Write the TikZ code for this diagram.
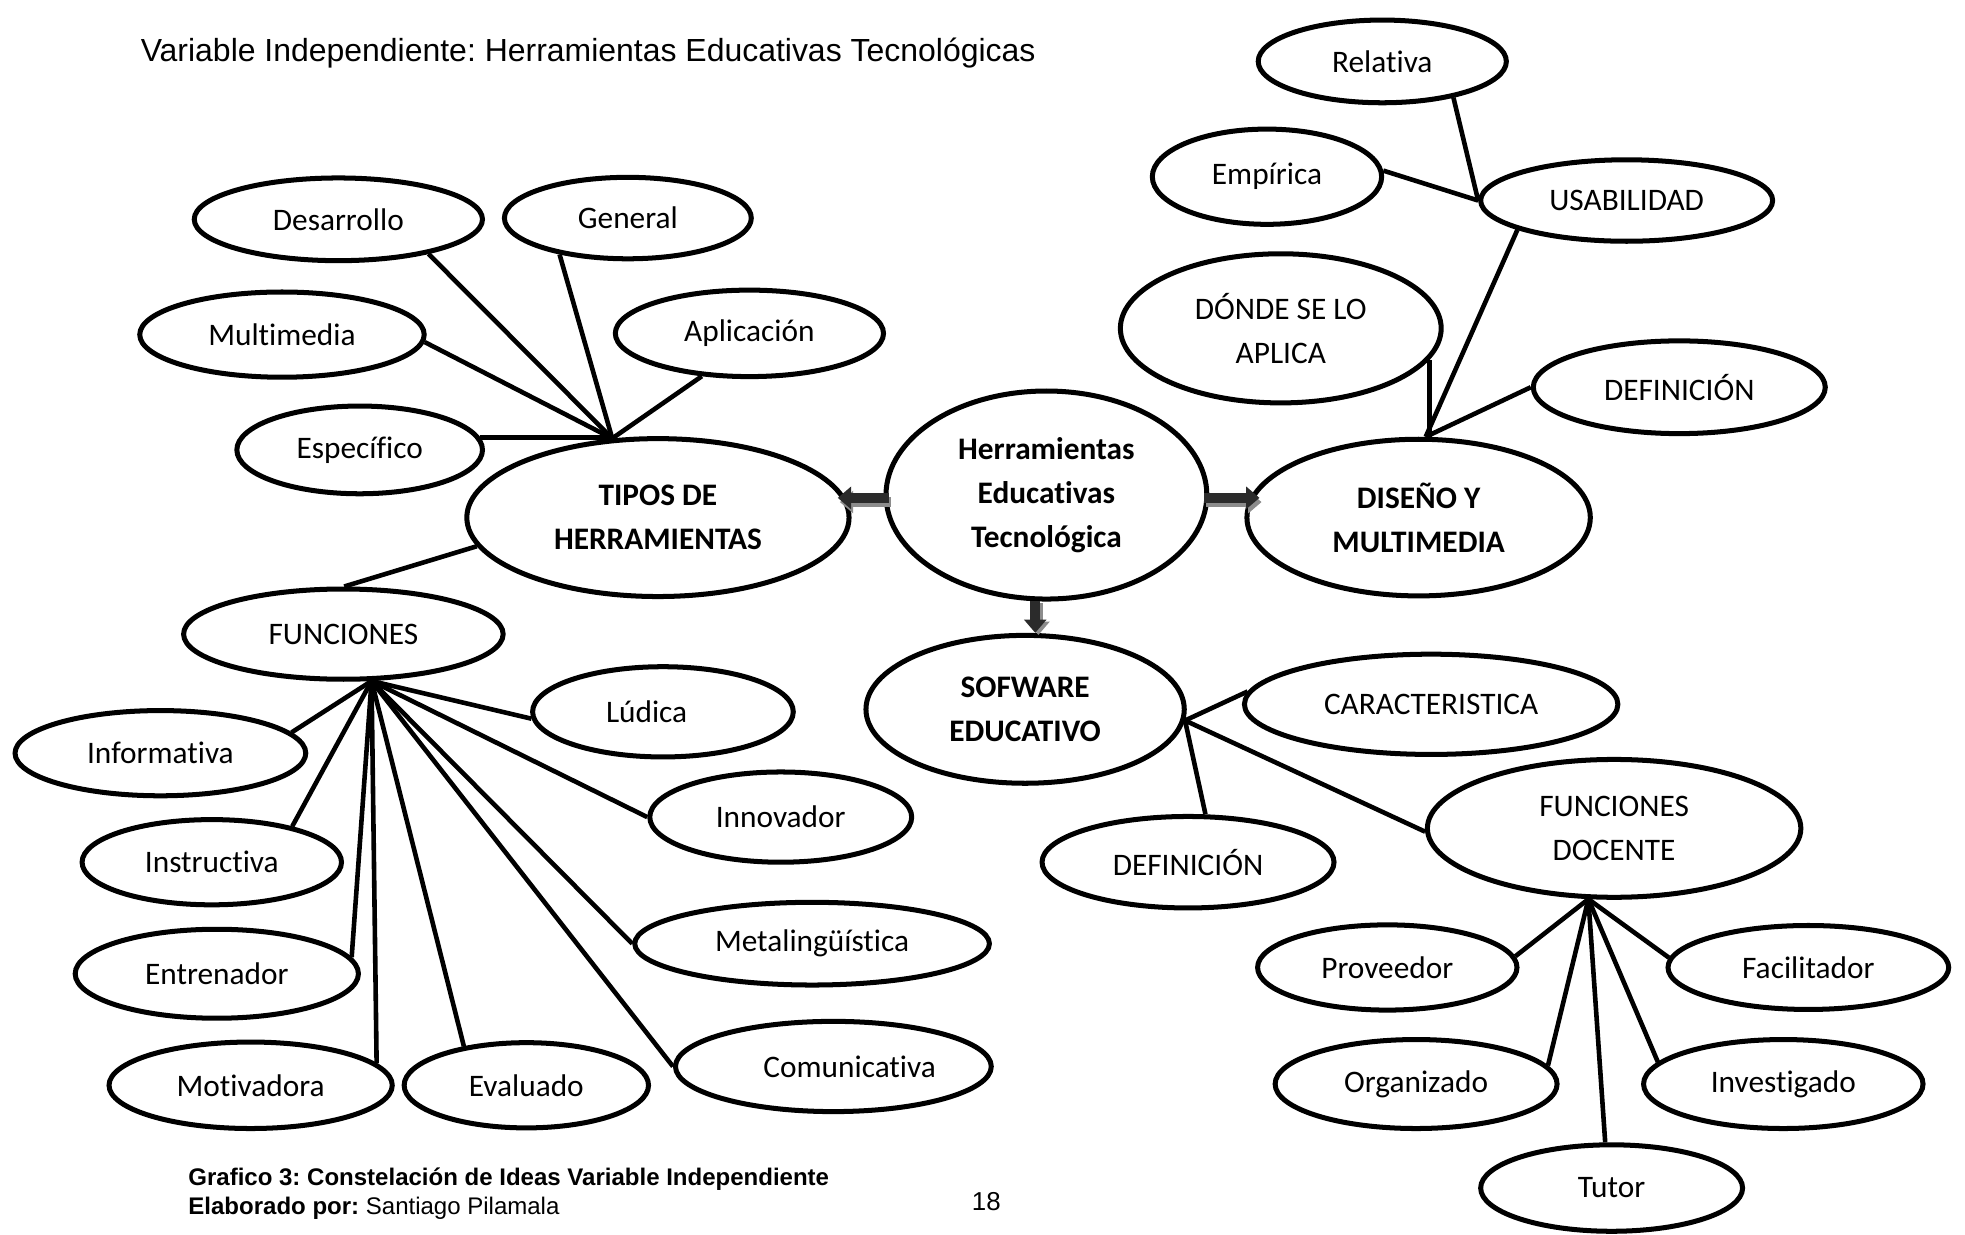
\documentclass[tikz,border=0pt]{standalone}
\usepackage{fontspec}
\setmainfont{Carlito}[Ligatures={NoCommon,NoRequired,NoContextual,NoRare},Contextuals={NoAlternate}]
\newfontfamily\arialf{Liberation Sans}
\usetikzlibrary{shapes.geometric,arrows.meta}
\definecolor{arrowdark}{HTML}{2B2B2B}
\definecolor{shadowgray}{HTML}{8C8C8C}
\frenchspacing
\begin{document}
\begin{tikzpicture}[x=0.6pt,y=-0.6pt,
  bub/.style={ellipse,draw,line width=2.4pt,inner sep=0pt,align=center,font=\fontsize{15}{21}\selectfont},
  bbub/.style={bub,font=\fontsize{15}{21}\selectfont\bfseries},
  sz/.style 2 args={minimum width=#1*0.6pt,minimum height=#2*0.6pt},
  ln/.style={line width=2.2pt},
  blk/.style={line width=4.6pt,draw=arrowdark,-{Triangle[length=6.4pt,width=10.5pt]}},
  shd/.style={line width=4.6pt,draw=shadowgray,-{Triangle[length=6.4pt,width=10.5pt]}}
]
\fill[white] (0,0) rectangle (1568,985);
\useasboundingbox (0,0) rectangle (1568,985);

% title and footer
\node[anchor=base west,inner sep=0pt,font=\arialf\fontsize{15.3}{18}\selectfont] (title) at (112,49) {Variable Independiente: Herramientas Educativas Tecnológicas};
\node[anchor=base west,inner sep=0pt,font=\arialf\bfseries\fontsize{11.5}{14}\selectfont] (cap1) at (150,946) {Grafico 3: Constelación de Ideas Variable Independiente};
\node[anchor=base west,inner sep=0pt,font=\arialf\fontsize{11.5}{14}\selectfont] (cap2) at (150,969) {\textbf{Elaborado por:} Santiago Pilamala};
\node[anchor=base,inner sep=0pt,font=\arialf\fontsize{12.4}{14}\selectfont] (page) at (787,966) {18};

% central
\node[bbub,sz={256}{166}] (herr) at (835,395) {Herramientas\\Educativas\\Tecnológica};
\node[bbub,sz={305}{126}] (tipos) at (525,413) {TIPOS DE\\HERRAMIENTAS};
\node[bbub,sz={274}{125}] (diseno) at (1132,413) {DISEÑO Y\\MULTIMEDIA};
\node[bbub,sz={254}{118}] (sofware) at (818,566) {SOFWARE\\EDUCATIVO};

% tipos branch
\node[bub,sz={230}{66}] (desarrollo) at (270,175) {Desarrollo};
\node[bub,sz={197}{65}] (general) at (501,174) {General};
\node[bub,sz={227}{68}] (multimedia) at (225,267) {Multimedia};
\node[bub,sz={214}{69}] (aplicacion) at (598,266) {Aplicación};
\node[bub,sz={196}{70}] (especifico) at (287,359) {Específico};
\node[bub,sz={255}{72}] (funciones) at (274,506) {FUNCIONES};

% funciones branch
\node[bub,sz={208}{72}] (ludica) at (529,568) {Lúdica\kern15.6pt};
\node[bub,sz={232}{68}] (informativa) at (128,601) {Informativa};
\node[bub,sz={209}{72}] (innovador) at (623,652) {Innovador};
\node[bub,sz={207}{68}] (instructiva) at (169,688) {Instructiva};
\node[bub,sz={283}{66}] (metaling) at (648,753) {Metalingüística};
\node[bub,sz={226}{71}] (entrenador) at (173,777) {Entrenador};
\node[bub,sz={226}{69}] (motivadora) at (200,866) {Motivadora};
\node[bub,sz={195}{68}] (evaluado) at (420,866) {Evaluado};
\node[bub,sz={252}{72}] (comunicativa) at (665,851) {\kern15.6pt Comunicativa};

% diseno branch
\node[bub,sz={198}{66}] (relativa) at (1103,49) {Relativa};
\node[bub,sz={183}{76}] (empirica) at (1011,141) {Empírica};
\node[bub,sz={233}{65}] (usab) at (1298,160) {USABILIDAD};
\node[bub,sz={256}{119}] (donde) at (1022,262) {DÓNDE SE LO\\APLICA};
\node[bub,sz={233}{74}] (def1) at (1340,309) {DEFINICIÓN};

% sofware branch
\node[bub,sz={298}{80}] (caract) at (1142,562) {CARACTERISTICA};
\node[bub,sz={233}{73}] (def2) at (948,688) {DEFINICIÓN};
\node[bub,sz={298}{110}] (fdoc) at (1288,661) {FUNCIONES\\DOCENTE};
\node[bub,sz={207}{68}] (proveedor) at (1107,772) {Proveedor};
\node[bub,sz={224}{67}] (facilitador) at (1443,772) {Facilitador};
\node[bub,sz={225}{71}] (organizado) at (1130,865) {Organizado};
\node[bub,sz={223}{71}] (investigado) at (1423,865) {Investigado};
\node[bub,sz={209}{69}] (tutor) at (1286,948) {Tutor};

% hubs
\coordinate (hT) at (tipos.120);
\coordinate (hF) at (funciones.-59);
\coordinate (hD) at (diseno.85);
\coordinate (hU) at (usab.180);
\coordinate (hS) at (sofware.-4);
\coordinate (hFD) at (fdoc.-110);

% connectors
\draw[ln] (desarrollo.-21) -- (hT);
\draw[ln] (general.-152) -- (hT);
\draw[ln] (multimedia.-3) -- (hT);
\draw[ln] (aplicacion.-138) -- (hT);
\draw[ln] (especifico.6) -- (especifico.6 -| hT);
\draw[ln] (tipos.189) -- (funciones.89);

\draw[ln] (informativa.9) -- (hF);
\draw[ln] (ludica.183) -- (hF);
\draw[ln] (instructiva.24) -- (hF);
\draw[ln] (innovador.180) -- (hF);
\draw[ln] (entrenador.7) -- (hF);
\draw[ln] (motivadora.10) -- (hF);
\draw[ln] (evaluado.148) -- (hF);
\draw[ln] (metaling.180) -- (hF);
\draw[ln] (comunicativa.180) -- (hF);

\draw[ln] (donde.-12.4) -- (donde.-12.4 |- hD);
\draw[ln] (usab.-165) -- (hD);
\draw[ln] (def1.180) -- (hD);
\draw[ln] (empirica.3) -- (hU);
\draw[ln] (relativa.-27) -- (hU);

\draw[ln] (caract.176) -- (hS);
\draw[ln] (def2.70) -- (hS);
\draw[ln] (fdoc.181) -- (hS);

\draw[ln] (proveedor.5) -- (hFD);
\draw[ln] (facilitador.176) -- (hFD);
\draw[ln] (organizado.8) -- (hFD);
\draw[ln] (investigado.170) -- (hFD);
\draw[ln] (tutor.98) -- (hFD);

% block arrows
\coordinate (aL) at (herr.-1);
\coordinate (aR) at (herr.181);
\draw[shd,shorten <=-2.4pt,shorten >=-6.6pt,transform canvas={xshift=1pt,yshift=-2pt}] (aR) -- (aR -| tipos.east);
\draw[blk,shorten <=-2.4pt,shorten >=-6.6pt] (aR) -- (aR -| tipos.east);
\draw[shd,shorten <=-2.4pt,shorten >=-7.2pt,transform canvas={xshift=1pt,yshift=-2pt}] (aL) -- (aL -| diseno.west);
\draw[blk,shorten <=-2.4pt,shorten >=-7.2pt] (aL) -- (aL -| diseno.west);
\draw[shd,transform canvas={xshift=1.5pt,yshift=-1pt}] (herr.-96) -- (herr.-96 |- sofware.north);
\draw[blk] (herr.-96) -- (herr.-96 |- sofware.north);
\end{tikzpicture}
\end{document}
